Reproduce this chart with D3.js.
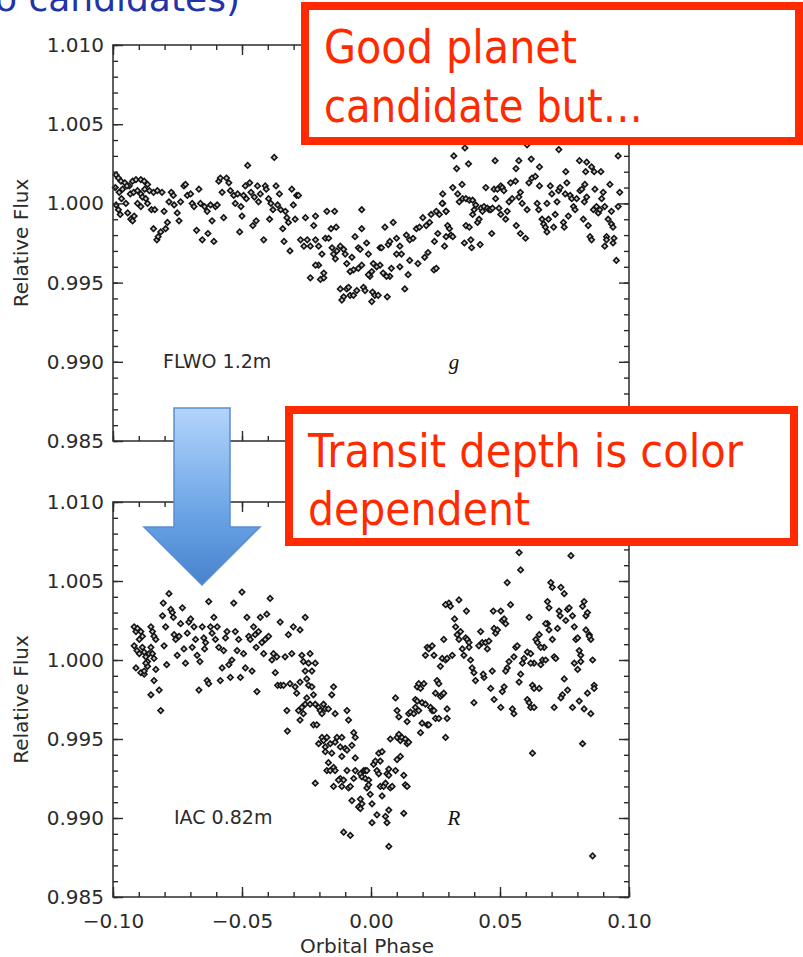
<!DOCTYPE html>
<html>
<head>
<meta charset="utf-8">
<script src="https://cdn.jsdelivr.net/npm/d3@7"></script>
<style>
body { margin: 0; background: #ffffff; }
#thevis { display: block; background: #ffffff; }
</style>
</head>
<body>
<svg id="thevis" width="803" height="957"></svg>
<script>

// axis ticks and labels
var phaseTicks = [-0.10, -0.05, 0.00, 0.05, 0.10];
var fluxTicks = [0.985, 0.990, 0.995, 1.000, 1.005, 1.010];
var panelNames = ["FLWO 1.2m", "IAC 0.82m"];
var bandNames = ["g", "R"];
var callout1 = ["Good planet", "candidate but\u2026"];
var callout2 = ["Transit depth is color", "dependent"];

// g band light curve (FLWO 1.2m): [orbital phase, relative flux]
var gObs = [
[-0.0988,1.0018],[-0.0979,1.0016],[-0.0969,1.0014],[-0.0954,1.0013],[-0.0937,1.0011],[-0.0924,1.0014],[-0.0911,1.0015],[-0.0892,1.0015],[-0.0879,1.0014],[-0.0866,1.0012],
[-0.0991,1.0010],[-0.0976,1.0007],[-0.0963,1.0009],[-0.0946,1.0011],[-0.0933,1.0006],[-0.0920,1.0007],[-0.0905,1.0008],[-0.0892,1.0006],[-0.0877,1.0009],[-0.0859,1.0008],
[-0.0843,1.0007],[-0.0828,1.0008],[-0.0810,1.0007],[-0.0988,0.9999],[-0.0979,0.9996],[-0.0972,0.9993],[-0.0967,1.0003],[-0.0950,1.0000],[-0.0943,0.9994],[-0.0931,0.9990],
[-0.0924,0.9989],[-0.0918,0.9992],[-0.0905,1.0000],[-0.0892,0.9998],[-0.0886,1.0004],[-0.0873,1.0003],[-0.0866,1.0000],[-0.0851,0.9996],[-0.0843,0.9984],[-0.0838,0.9996],
[-0.0830,0.9977],[-0.0825,0.9979],[-0.0815,0.9982],[-0.0802,0.9995],[-0.0796,0.9984],[-0.0789,0.9988],[-0.0783,1.0001],[-0.0774,1.0007],[-0.0766,1.0005],[-0.0763,0.9999],
[-0.0751,0.9994],[-0.0744,0.9989],[-0.0738,1.0001],[-0.0725,1.0011],[-0.0719,1.0012],[-0.0712,1.0005],[-0.0699,1.0006],[-0.0693,1.0000],[-0.0686,0.9998],[-0.0676,0.9983],
[-0.0667,1.0009],[-0.0661,1.0000],[-0.0654,0.9977],[-0.0645,0.9998],[-0.0635,0.9995],[-0.0632,0.9981],[-0.0622,0.9999],[-0.0616,0.9989],[-0.0609,0.9976],[-0.0603,0.9998],
[-0.0596,0.9999],[-0.0590,1.0014],[-0.0584,1.0016],[-0.0577,1.0007],[-0.0571,0.9991],[-0.0560,1.0016],[-0.0551,1.0013],[-0.0545,1.0008],[-0.0532,1.0005],[-0.0526,1.0000],
[-0.0517,1.0006],[-0.0509,0.9982],[-0.0504,0.9998],[-0.0500,0.9992],[-0.0494,1.0005],[-0.0487,1.0011],[-0.0483,1.0003],[-0.0478,1.0024],[-0.0470,1.0013],[-0.0465,1.0007],
[-0.0458,0.9986],[-0.0452,1.0004],[-0.0445,0.9989],[-0.0440,1.0011],[-0.0436,1.0001],[-0.0429,1.0006],[-0.0416,0.9977],[-0.0410,1.0011],[-0.0406,1.0009],[-0.0397,1.0003],
[-0.0393,0.9990],[-0.0388,1.0000],[-0.0380,0.9996],[-0.0375,1.0029],[-0.0368,1.0011],[-0.0362,0.9999],[-0.0355,1.0006],[-0.0350,0.9996],[-0.0342,0.9984],[-0.0337,0.9976],
[-0.0332,0.9995],[-0.0326,0.9991],[-0.0320,0.9988],[-0.0314,0.9970],[-0.0307,1.0009],[-0.0301,0.9999],[-0.0294,0.9990],[-0.0288,1.0005],[-0.0281,1.0005],
[-0.0254,0.9991],[-0.0215,0.9992],[-0.0171,0.9995],[-0.0141,0.9995],[-0.0036,0.9996],[-0.0273,0.9977],[-0.0247,0.9977],[-0.0235,0.9973],[-0.0215,0.9977],[-0.0177,0.9978],
[-0.0164,0.9978],[-0.0155,0.9984],[-0.0135,0.9985],[-0.0222,0.9986],[-0.0260,0.9973],[-0.0203,0.9973],[-0.0190,0.9968],[-0.0151,0.9972],[-0.0145,0.9968],[-0.0132,0.9970],
[-0.0119,0.9973],[-0.0106,0.9971],[-0.0100,0.9968],[-0.0138,0.9965],[-0.0094,0.9962],[-0.0074,0.9966],[-0.0062,0.9979],[-0.0036,0.9984],[-0.0049,0.9972],[-0.0042,0.9971],
[-0.0017,0.9975],[-0.0010,0.9968],[0.0035,0.9972],[0.0041,0.9972],[0.0054,0.9985],[0.0067,0.9974],[0.0073,0.9976],[0.0086,0.9988],[0.0099,0.9978],[0.0112,0.9973],
[0.0118,0.9968],[0.0099,0.9968],[0.0137,0.9980],[0.0150,0.9977],[0.0163,0.9978],[0.0176,0.9984],[0.0188,0.9985],[0.0201,0.9991],[0.0214,0.9986],[0.0227,0.9988],
[0.0233,0.9993],[0.0253,0.9995],[0.0265,0.9993],[0.0278,1.0000],[0.0291,0.9995],[0.0259,0.9981],[0.0246,0.9976],[0.0221,0.9969],[0.0208,0.9966],[0.0182,0.9962],
[0.0150,0.9964],[0.0144,0.9955],[0.0112,0.9960],[0.0079,0.9959],[0.0073,0.9954],[0.0060,0.9954],[0.0047,0.9956],[0.0035,0.9961],[0.0022,0.9960],[0.0009,0.9962],
[0.0003,0.9957],[-0.0004,0.9954],[-0.0010,0.9955],[-0.0036,0.9961],[-0.0049,0.9959],[-0.0068,0.9958],[-0.0081,0.9957],[-0.0203,0.9961],[-0.0215,0.9961],[-0.0235,0.9953],
[-0.0196,0.9952],[-0.0183,0.9953],[-0.0183,0.9956],[-0.0119,0.9946],[-0.0094,0.9946],[-0.0087,0.9947],[-0.0106,0.9941],[-0.0113,0.9939],[-0.0081,0.9942],[-0.0068,0.9942],
[-0.0055,0.9945],[-0.0029,0.9947],[-0.0023,0.9945],[0.0003,0.9938],[0.0006,0.9944],[0.0015,0.9942],[0.0028,0.9942],[0.0063,0.9941],[0.0131,0.9946],[0.0244,0.9958],[0.0253,0.9959],
[0.0321,1.0030],[0.0364,1.0035],[0.0378,1.0025],[0.0332,1.0022],[0.0481,1.0027],[0.0605,1.0037],[0.0573,1.0027],[0.0621,1.0028],[0.0562,1.0022],[0.0653,1.0023],
[0.0728,1.0034],[0.0755,1.0020],[0.0808,1.0027],[0.0836,1.0026],[0.0832,1.0020],[0.0855,1.0023],[0.0865,1.0020],[0.0891,1.0020],[0.0958,1.0030],
[0.0278,1.0006],[0.0276,1.0000],[0.0291,0.9995],[0.0297,0.9986],[0.0304,0.9984],[0.0310,0.9980],[0.0317,0.9979],[0.0291,0.9979],[0.0285,0.9973],[0.0317,1.0010],
[0.0336,1.0006],[0.0342,1.0001],[0.0355,1.0003],[0.0368,1.0003],[0.0381,1.0002],[0.0394,1.0002],[0.0353,1.0012],[0.0362,0.9975],[0.0368,0.9986],[0.0381,0.9985],
[0.0387,0.9977],[0.0390,0.9972],[0.0394,0.9993],[0.0400,0.9996],[0.0406,0.9999],[0.0413,0.9988],[0.0419,0.9990],[0.0423,0.9974],[0.0426,0.9997],[0.0432,0.9995],
[0.0438,0.9998],[0.0445,1.0010],[0.0451,0.9997],[0.0458,0.9996],[0.0464,0.9996],[0.0471,0.9997],[0.0477,1.0009],[0.0468,0.9981],[0.0483,1.0003],[0.0490,1.0009],
[0.0496,0.9997],[0.0503,1.0011],[0.0509,1.0010],[0.0515,1.0008],[0.0503,0.9993],[0.0522,0.9990],[0.0528,0.9995],[0.0535,1.0001],[0.0541,1.0013],[0.0547,1.0003],
[0.0560,1.0014],[0.0563,0.9986],[0.0573,1.0004],[0.0579,1.0007],[0.0586,1.0000],[0.0579,0.9981],[0.0599,0.9978],[0.0605,0.9996],[0.0612,1.0013],[0.0624,1.0016],
[0.0637,1.0017],[0.0644,1.0000],[0.0650,0.9996],[0.0653,1.0011],[0.0663,0.9990],[0.0669,0.9987],[0.0676,0.9985],[0.0682,0.9982],[0.0688,0.9990],[0.0682,1.0000],
[0.0695,1.0011],[0.0701,1.0006],[0.0708,0.9985],[0.0714,0.9993],[0.0721,1.0001],[0.0727,1.0008],[0.0733,1.0010],[0.0746,0.9988],[0.0749,0.9985],[0.0753,1.0006],
[0.0759,1.0013],[0.0765,0.9992],[0.0772,1.0005],[0.0778,1.0003],[0.0785,0.9998],[0.0791,0.9996],[0.0797,1.0003],[0.0810,1.0008],[0.0817,1.0009],[0.0823,0.9990],
[0.0827,1.0001],[0.0829,1.0012],[0.0836,1.0004],[0.0842,0.9986],[0.0849,0.9979],[0.0855,0.9977],[0.0862,0.9996],[0.0868,1.0009],[0.0874,0.9998],[0.0881,0.9994],
[0.0887,0.9996],[0.0894,1.0003],[0.0900,1.0007],[0.0906,0.9998],[0.0913,0.9979],[0.0919,0.9990],[0.0926,1.0012],[0.0932,0.9987],[0.0938,0.9985],[0.0942,0.9978],
[0.0906,0.9973],[0.0951,0.9964],[0.0958,0.9998],[0.0964,1.0007],[0.0932,0.9995],[0.0913,0.9977],[0.0938,0.9975]
];

// R band light curve (IAC 0.82m): [orbital phase, relative flux]
var rObs = [
[-0.0918,1.0021],[-0.0911,1.0018],[-0.0905,1.0020],[-0.0892,1.0018],[-0.0886,1.0015],[-0.0898,1.0013],[-0.0918,1.0009],[-0.0907,1.0006],[-0.0898,1.0004],[-0.0886,1.0008],
[-0.0879,1.0005],[-0.0873,1.0002],[-0.0866,0.9999],[-0.0860,1.0004],[-0.0853,1.0021],[-0.0847,1.0018],[-0.0841,1.0015],[-0.0834,1.0013],[-0.0853,1.0008],[-0.0847,1.0004],
[-0.0841,1.0001],[-0.0911,0.9995],[-0.0892,0.9992],[-0.0879,0.9991],[-0.0866,0.9996],[-0.0873,0.9998],[-0.0879,0.9993],[-0.0841,0.9987],[-0.0834,0.9994],[-0.0853,0.9978],
[-0.0821,0.9981],[-0.0815,0.9968],[-0.0808,1.0028],[-0.0805,1.0036],[-0.0796,1.0021],[-0.0802,1.0009],[-0.0792,0.9997],[-0.0783,1.0042],[-0.0776,1.0032],[-0.0770,1.0030],
[-0.0766,1.0027],[-0.0763,1.0016],[-0.0757,1.0013],[-0.0751,1.0003],[-0.0744,1.0015],[-0.0738,1.0023],[-0.0731,1.0033],[-0.0725,1.0007],[-0.0719,0.9998],[-0.0712,1.0017],
[-0.0706,1.0024],[-0.0699,1.0026],[-0.0693,1.0008],[-0.0686,1.0021],[-0.0680,1.0013],[-0.0674,1.0003],[-0.0667,0.9981],[-0.0663,0.9999],[-0.0654,1.0021],[-0.0648,1.0014],
[-0.0645,1.0007],[-0.0641,1.0011],[-0.0635,0.9987],[-0.0629,1.0037],[-0.0629,0.9985],[-0.0622,1.0021],[-0.0616,1.0017],[-0.0609,1.0027],[-0.0603,1.0013],[-0.0596,1.0021],
[-0.0590,1.0008],[-0.0584,0.9987],[-0.0577,0.9995],[-0.0571,1.0006],[-0.0564,1.0014],[-0.0558,1.0018],[-0.0551,0.9997],[-0.0545,0.9989],[-0.0539,1.0000],[-0.0532,1.0036],
[-0.0526,1.0018],[-0.0519,1.0006],[-0.0513,1.0013],[-0.0506,0.9989],[-0.0500,1.0043],[-0.0494,1.0004],[-0.0487,0.9995],[-0.0481,1.0027],[-0.0474,1.0015],[-0.0468,1.0013],
[-0.0461,0.9993],[-0.0455,1.0021],[-0.0449,1.0016],[-0.0445,1.0008],[-0.0442,0.9980],[-0.0436,1.0018],[-0.0429,1.0027],[-0.0423,1.0011],[-0.0416,1.0004],[-0.0410,1.0013],
[-0.0404,1.0029],[-0.0397,1.0015],[-0.0391,1.0039],[-0.0384,1.0000],[-0.0378,1.0004],[-0.0371,0.9992],[-0.0365,1.0002],[-0.0362,0.9984],[-0.0352,1.0024],[-0.0350,0.9984],
[-0.0339,0.9984],[-0.0333,1.0002],[-0.0326,0.9968],[-0.0324,0.9955],[-0.0320,1.0016],[-0.0314,0.9985],[-0.0307,1.0004],[-0.0301,1.0021],[-0.0294,0.9983],[-0.0288,0.9979],
[-0.0281,0.9968],[-0.0275,0.9986],
[-0.0255,1.0027],[-0.0275,1.0019],[-0.0268,1.0003],[-0.0262,0.9999],[-0.0255,0.9993],[-0.0242,0.9998],[-0.0236,1.0004],[-0.0216,0.9998],[-0.0229,0.9993],[-0.0249,0.9988],
[-0.0242,0.9984],[-0.0229,0.9983],[-0.0223,0.9978],[-0.0249,0.9976],[-0.0268,0.9970],[-0.0262,0.9966],[-0.0275,0.9962],[-0.0255,0.9972],[-0.0236,0.9972],[-0.0216,0.9972],
[-0.0203,0.9970],[-0.0197,0.9968],[-0.0190,0.9966],[-0.0184,0.9972],[-0.0177,0.9969],[-0.0165,0.9969],[-0.0145,0.9983],[-0.0152,0.9978],[-0.0139,0.9966],[-0.0093,0.9968],
[-0.0087,0.9962],[-0.0223,0.9959],[-0.0210,0.9959],[-0.0190,0.9951],[-0.0184,0.9949],[-0.0171,0.9951],[-0.0203,0.9947],[-0.0177,0.9945],[-0.0158,0.9947],[-0.0132,0.9951],
[-0.0113,0.9951],[-0.0139,0.9948],[-0.0119,0.9945],[-0.0100,0.9944],[-0.0093,0.9943],[-0.0067,0.9954],[-0.0061,0.9951],[-0.0074,0.9946],[-0.0177,0.9942],[-0.0152,0.9941],
[-0.0113,0.9939],[-0.0165,0.9935],[-0.0145,0.9932],[-0.0171,0.9930],[-0.0158,0.9930],[-0.0139,0.9930],[-0.0119,0.9925],[-0.0126,0.9924],[-0.0145,0.9920],[-0.0113,0.9920],
[-0.0106,0.9924],[-0.0093,0.9930],[-0.0087,0.9919],[-0.0080,0.9920],[-0.0067,0.9925],[-0.0061,0.9930],[-0.0216,0.9922],[-0.0106,0.9891],[-0.0080,0.9889],[-0.0074,0.9911],
[-0.0041,0.9912],[-0.0048,0.9907],[-0.0035,0.9909],[-0.0041,0.9906],[-0.0061,0.9938],[-0.0041,0.9928],[-0.0028,0.9930],[-0.0022,0.9930],[-0.0016,0.9930],[-0.0035,0.9926],
[-0.0022,0.9925],[-0.0009,0.9924],[-0.0003,0.9915],[0.0004,0.9909],[0.0004,0.9897],[-0.0016,0.9919],[-0.0009,0.9921],
[0.0010,0.9934],[0.0017,0.9936],[0.0030,0.9941],[0.0036,0.9936],[0.0043,0.9942],[0.0023,0.9930],[0.0030,0.9928],[0.0036,0.9920],[0.0049,0.9920],[0.0056,0.9922],
[0.0062,0.9928],[0.0069,0.9927],[0.0043,0.9914],[0.0023,0.9902],[0.0056,0.9901],[0.0062,0.9897],[0.0069,0.9905],[0.0069,0.9882],[0.0075,0.9919],[0.0082,0.9920],
[0.0095,0.9930],[0.0101,0.9937],[0.0114,0.9939],[0.0127,0.9927],[0.0133,0.9921],[0.0140,0.9920],[0.0127,0.9903],[0.0069,0.9931],[0.0075,0.9950],[0.0101,0.9951],
[0.0108,0.9953],[0.0114,0.9949],[0.0120,0.9951],[0.0133,0.9950],[0.0140,0.9947],[0.0146,0.9948],[0.0095,0.9976],[0.0101,0.9968],[0.0108,0.9964],[0.0140,0.9961],
[0.0146,0.9966],[0.0153,0.9967],[0.0166,0.9966],[0.0172,0.9975],[0.0179,0.9974],[0.0172,0.9970],[0.0185,0.9968],[0.0192,0.9954],[0.0198,0.9960],[0.0198,0.9973],
[0.0211,0.9972],[0.0218,0.9959],[0.0224,0.9959],[0.0231,0.9970],[0.0237,0.9968],[0.0244,0.9968],[0.0250,0.9979],[0.0250,0.9963],[0.0263,0.9963],[0.0269,0.9977],
[0.0276,0.9978],[0.0282,0.9979],[0.0289,0.9951],[0.0295,0.9963],[0.0295,0.9969],[0.0179,0.9983],[0.0185,0.9985],[0.0192,0.9982],[0.0205,0.9985],[0.0211,1.0003],
[0.0218,1.0008],[0.0224,1.0007],[0.0237,1.0009],[0.0244,1.0003],[0.0256,0.9987],[0.0263,0.9985],[0.0269,0.9996],[0.0276,1.0001],[0.0282,1.0013],[0.0289,1.0000],
[0.0295,1.0001],[0.0315,1.0003],[0.0302,1.0036],[0.0308,1.0034],[0.0289,1.0035],[0.0341,1.0038],[0.0324,1.0026],[0.0328,1.0021],[0.0334,1.0016],[0.0341,1.0013],[0.0347,1.0018],
[0.0354,1.0007],[0.0360,1.0003],[0.0367,1.0014],[0.0373,1.0013],[0.0380,1.0011],[0.0386,1.0000],[0.0392,0.9995],[0.0399,0.9992],[0.0405,0.9987],[0.0399,0.9973],
[0.0370,1.0031],[0.0380,1.0008],[0.0418,1.0009],[0.0425,1.0018],[0.0431,1.0011],[0.0438,0.9989],[0.0435,0.9991],[0.0444,1.0011],[0.0451,1.0007],[0.0457,1.0012],
[0.0464,0.9982],[0.0477,0.9975],[0.0470,0.9993],[0.0477,1.0020],[0.0483,1.0017],[0.0490,1.0019],[0.0474,1.0031],[0.0503,1.0031],[0.0509,1.0025],[0.0516,1.0026],
[0.0522,1.0023],[0.0528,0.9995],[0.0535,0.9999],[0.0541,1.0035],[0.0503,0.9970],[0.0509,0.9980],[0.0516,0.9983],[0.0522,0.9993],[0.0528,1.0049],[0.0574,1.0068],
[0.0580,1.0057],[0.0548,0.9969],[0.0554,0.9966],[0.0554,1.0002],[0.0561,1.0008],[0.0567,1.0009],[0.0574,0.9986],[0.0580,0.9991],[0.0587,0.9998],[0.0593,1.0001],
[0.0606,1.0005],[0.0613,1.0027],[0.0619,1.0004],[0.0626,0.9984],[0.0632,0.9982],[0.0652,0.9982],[0.0606,0.9975],[0.0613,0.9973],[0.0619,0.9970],[0.0632,0.9970],
[0.0626,0.9941],[0.0639,1.0013],[0.0652,1.0016],[0.0658,0.9997],[0.0665,1.0000],[0.0671,1.0008],[0.0677,1.0000],[0.0684,1.0037],[0.0690,1.0033],[0.0697,1.0049],
[0.0703,1.0046],[0.0710,1.0002],[0.0716,1.0001],[0.0723,1.0020],[0.0729,1.0031],[0.0733,1.0028],[0.0736,1.0046],[0.0749,1.0042],[0.0755,1.0025],[0.0762,1.0032],
[0.0768,1.0033],[0.0775,1.0066],[0.0781,1.0028],[0.0788,1.0021],[0.0794,1.0013],[0.0801,1.0014],[0.0807,1.0006],[0.0813,1.0003],[0.0820,1.0034],[0.0826,1.0037],
[0.0833,1.0028],[0.0839,1.0030],[0.0846,1.0016],[0.0852,1.0013],[0.0859,1.0000],[0.0865,0.9984],[0.0865,0.9982],[0.0852,0.9966],[0.0839,0.9979],[0.0826,0.9969],
[0.0820,0.9947],[0.0807,0.9974],[0.0788,0.9998],[0.0781,0.9970],[0.0762,0.9981],[0.0749,0.9988],[0.0742,0.9978],[0.0736,0.9976],[0.0710,0.9970],[0.0703,1.0013],
[0.0690,1.0019],[0.0684,1.0023],[0.0677,1.0023],[0.0658,1.0008],[0.0645,1.0011],[0.0632,0.9998],[0.0619,0.9998],[0.0859,0.9876],[0.0801,0.9994],[0.0813,0.9999],
[0.0833,1.0019],[0.0846,1.0015]
];

var svg = d3.select("#thevis");
var axisColor = "#2b2b2b";
var tickFont = "'DejaVu Sans', sans-serif";

var x = d3.scaleLinear().domain([-0.1, 0.1]).range([113, 629]);
var minorPhase = d3.range(-10, 11).map(function(i) { return i / 100; });
var minorFlux = d3.range(985, 1011).map(function(i) { return i / 1000; });

var defs = svg.append("defs");
var grad = defs.append("linearGradient")
	.attr("id", "arrowFill")
	.attr("x1", 0).attr("y1", 0).attr("x2", 0).attr("y2", 1);
grad.append("stop").attr("offset", "0%").attr("stop-color", "#b3d4fb");
grad.append("stop").attr("offset", "60%").attr("stop-color", "#6aa4e6");
grad.append("stop").attr("offset", "100%").attr("stop-color", "#4782cc");

function styleAxis(sel) {
	sel.select(".domain").remove();
	sel.selectAll("line").attr("stroke", axisColor).attr("stroke-width", 1.4);
	sel.selectAll("text")
		.attr("fill", axisColor)
		.attr("font-family", tickFont)
		.attr("font-size", 20);
}

function drawPanel(obs, top, bottom, name, band, showPhase) {
	var y = d3.scaleLinear().domain([0.985, 1.010]).range([bottom, top]);
	var g = svg.append("g");

	// data points, small open diamonds
	g.append("g").selectAll("path")
		.data(obs)
		.enter().append("path")
			.attr("d", d3.symbol().type(d3.symbolSquare).size(15))
			.attr("transform", function(d) { return "translate(" + x(d[0]) + "," + y(d[1]) + ") rotate(45)"; })
			.attr("fill", "#c8c8c8")
			.attr("stroke", "#141414")
			.attr("stroke-width", 1.6);

	// frame
	g.append("rect")
		.attr("x", x(-0.1))
		.attr("y", top)
		.attr("width", x(0.1) - x(-0.1))
		.attr("height", bottom - top)
		.attr("fill", "none")
		.attr("stroke", axisColor)
		.attr("stroke-width", 1.5);

	// y axis, left with labels
	g.append("g").attr("transform", "translate(" + x(-0.1) + ",0)")
		.call(d3.axisLeft(y).tickValues(fluxTicks).tickSize(-10).tickPadding(9).tickFormat(d3.format(".3f")))
		.call(styleAxis);
	g.append("g").attr("transform", "translate(" + x(-0.1) + ",0)")
		.call(d3.axisLeft(y).tickValues(minorFlux).tickSize(-5).tickFormat(""))
		.call(styleAxis);
	// y axis, right
	g.append("g").attr("transform", "translate(" + x(0.1) + ",0)")
		.call(d3.axisRight(y).tickValues(fluxTicks).tickSize(-10).tickFormat(""))
		.call(styleAxis);
	g.append("g").attr("transform", "translate(" + x(0.1) + ",0)")
		.call(d3.axisRight(y).tickValues(minorFlux).tickSize(-5).tickFormat(""))
		.call(styleAxis);
	// x axis, top
	g.append("g").attr("transform", "translate(0," + top + ")")
		.call(d3.axisTop(x).tickValues(phaseTicks).tickSize(-10).tickFormat(""))
		.call(styleAxis);
	g.append("g").attr("transform", "translate(0," + top + ")")
		.call(d3.axisTop(x).tickValues(minorPhase).tickSize(-5).tickFormat(""))
		.call(styleAxis);
	// x axis, bottom
	g.append("g").attr("transform", "translate(0," + bottom + ")")
		.call(d3.axisBottom(x).tickValues(phaseTicks).tickSize(-10).tickPadding(17)
			.tickFormat(showPhase ? d3.format(".2f") : ""))
		.call(styleAxis);
	g.append("g").attr("transform", "translate(0," + bottom + ")")
		.call(d3.axisBottom(x).tickValues(minorPhase).tickSize(-5).tickFormat(""))
		.call(styleAxis);

	g.append("text")
		.attr("transform", "translate(28," + ((top + bottom) / 2) + ") rotate(-90)")
		.attr("text-anchor", "middle")
		.attr("font-family", tickFont)
		.attr("font-size", 20)
		.attr("fill", axisColor)
		.text("Relative Flux");

	g.append("text")
		.attr("x", name.charAt(0) == "F" ? 163 : 174)
		.attr("y", y(0.990))
		.attr("dy", "0.32em")
		.attr("font-family", tickFont)
		.attr("font-size", 19)
		.attr("fill", axisColor)
		.text(name);

	g.append("text")
		.attr("x", 454)
		.attr("y", y(0.990))
		.attr("dy", "0.32em")
		.attr("text-anchor", "middle")
		.attr("font-family", "'Liberation Serif', serif")
		.attr("font-style", "italic")
		.attr("font-size", 21)
		.attr("fill", "#111")
		.text(band);
}

drawPanel(gObs, 45, 441, panelNames[0], bandNames[0], false);
drawPanel(rObs, 502, 897, panelNames[1], bandNames[1], true);

svg.append("text")
	.attr("x", (x(-0.1) + x(0.1)) / 2 - 4)
	.attr("y", 953)
	.attr("text-anchor", "middle")
	.attr("font-family", tickFont)
	.attr("font-size", 20)
	.attr("fill", axisColor)
	.text("Orbital Phase");

// slide title peeking in at the top edge
svg.append("text")
	.attr("x", 240)
	.attr("y", 11)
	.attr("text-anchor", "end")
	.attr("font-family", "'DejaVu Sans', sans-serif")
	.attr("font-size", 36)
	.attr("fill", "#2233a8")
	.text("(two candidates)");

// red callouts
var red = "#ff2a00";
function callout(bx, by, bw, bh, lines, tx, ty, lineGap, widths) {
	svg.append("rect")
		.attr("x", bx).attr("y", by)
		.attr("width", bw).attr("height", bh)
		.attr("fill", "#ffffff")
		.attr("stroke", red)
		.attr("stroke-width", 8);
	lines.forEach(function(t, i) {
		svg.append("text")
			.attr("x", tx)
			.attr("y", ty + i * lineGap)
			.attr("font-family", "'DejaVu Sans', sans-serif")
			.attr("font-size", 47)
			.attr("fill", red)
			.attr("textLength", widths[i])
			.attr("lengthAdjust", "spacingAndGlyphs")
			.text(t);
	});
}
callout(305, 6, 494, 135, callout1, 324, 63, 59, [253, 319]);
callout(289, 410, 505, 132, callout2, 308, 467, 58, [435, 222]);

// blue arrow between the panels
svg.append("path")
	.attr("d", "M174,408L230,408L230,527L260,527L202,585L144,527L174,527Z")
	.attr("fill", "url(#arrowFill)")
	.attr("stroke", "#5a8ed0")
	.attr("stroke-width", 1.5);

</script>
</body>
</html>
